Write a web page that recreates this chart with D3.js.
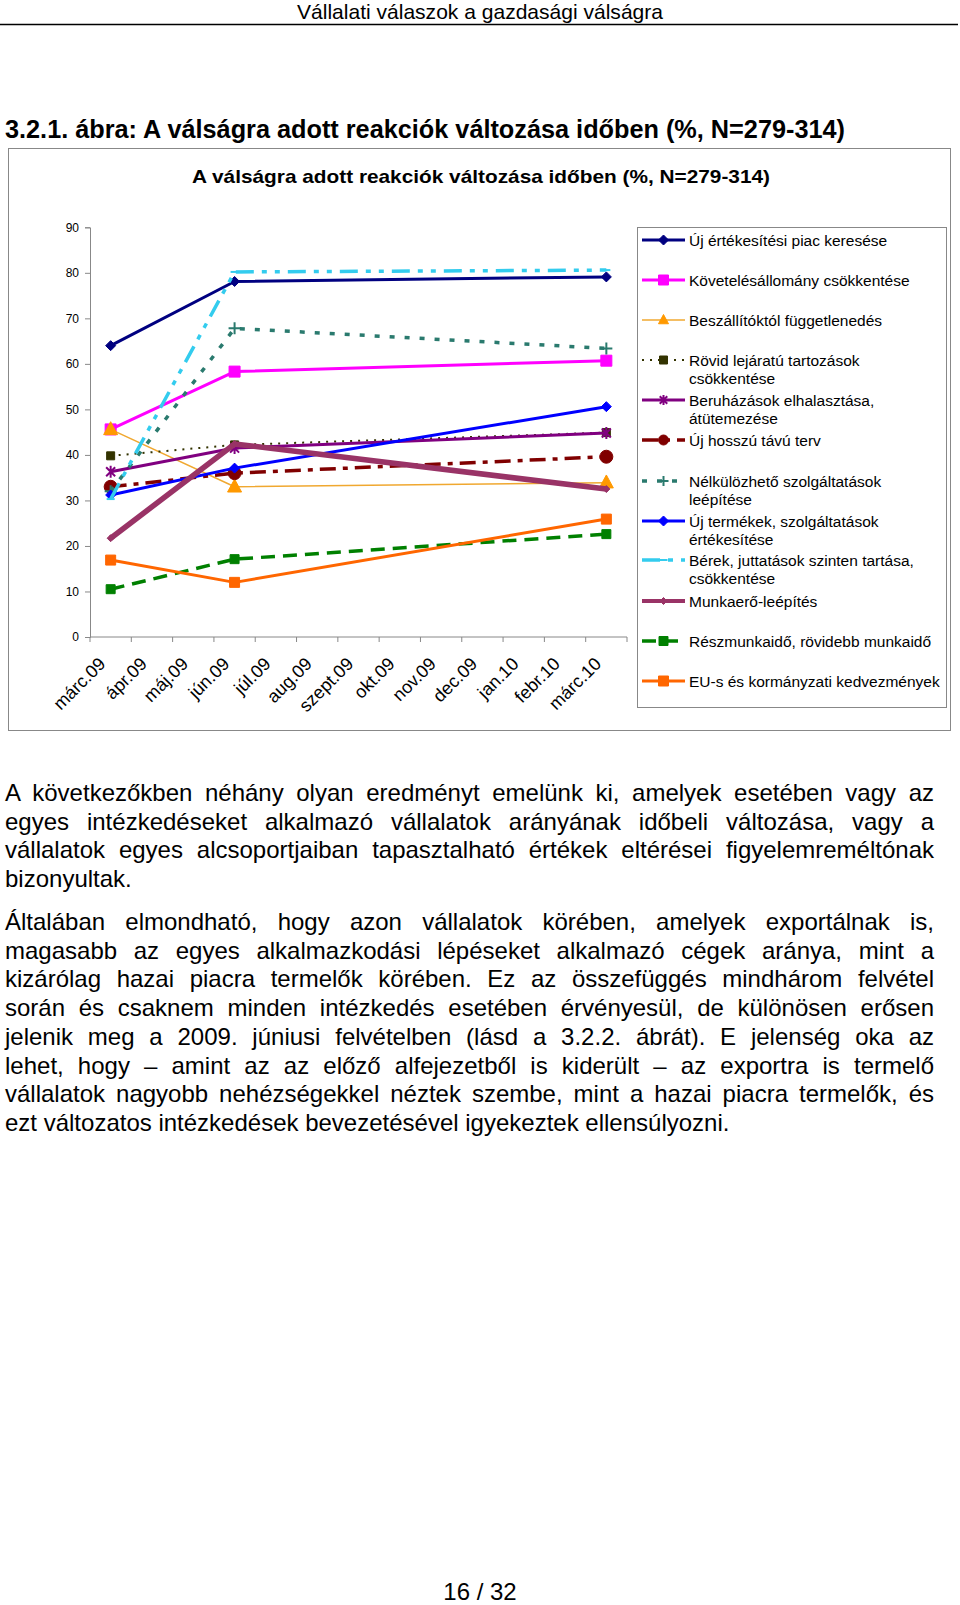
<!DOCTYPE html>
<html>
<head>
<meta charset="utf-8">
<script src="https://cdn.jsdelivr.net/npm/d3@7"></script>
<style>
  body { margin: 0; background: #fff; }
  #page { position: relative; width: 960px; height: 1605px; overflow: hidden; }
  svg { position: absolute; left: 0; top: 0; }
  .txt { position: absolute; left: 5px; width: 929px; font-family: "Liberation Sans", Arial, sans-serif;
         font-size: 24px; line-height: 28.7px; color: #000; }
  .ln { text-align: justify; text-align-last: justify; white-space: nowrap; }
  .ln.last { text-align-last: left; }
</style>
</head>
<body>
<div id="page">
  <div class="chart"></div>
</div>
<script>
// months on the x axis
let months = ['márc.09', 'ápr.09', 'máj.09', 'jún.09', 'júl.09', 'aug.09', 'szept.09',
  'okt.09', 'nov.09', 'dec.09', 'jan.10', 'febr.10', 'márc.10'];
// the three survey waves
let surveyMonths = ['márc.09', 'jún.09', 'márc.10'];
let yTicks = [0, 10, 20, 30, 40, 50, 60, 70, 80, 90];

let seriesNames = [
  'Új értékesítési piac keresése',
  'Követelésállomány csökkentése',
  'Beszállítóktól függetlenedés',
  'Rövid lejáratú tartozások csökkentése',
  'Beruházások elhalasztása, átütemezése',
  'Új hosszú távú terv',
  'Nélkülözhető szolgáltatások leépítése',
  'Új termékek, szolgáltatások értékesítése',
  'Bérek, juttatások szinten tartása, csökkentése',
  'Munkaerő-leépítés',
  'Részmunkaidő, rövidebb munkaidő',
  'EU-s és kormányzati kedvezmények'
];

// legend text split into lines as in the picture
let legendLines = [
  ['Új értékesítési piac keresése'],
  ['Követelésállomány csökkentése'],
  ['Beszállítóktól függetlenedés'],
  ['Rövid lejáratú tartozások', 'csökkentése'],
  ['Beruházások elhalasztása,', 'átütemezése'],
  ['Új hosszú távú terv'],
  ['Nélkülözhető szolgáltatások', 'leépítése'],
  ['Új termékek, szolgáltatások', 'értékesítése'],
  ['Bérek, juttatások szinten tartása,', 'csökkentése'],
  ['Munkaerő-leépítés'],
  ['Részmunkaidő, rövidebb munkaidő'],
  ['EU-s és kormányzati kedvezmények']
];

// values per survey wave (márc.09, jún.09, márc.10)
let ujPiac = [64.0, 78.1, 79.1];
let kovetelesek = [45.6, 58.3, 60.7];
let beszallitok = [45.6, 33.0, 33.9];
let rovidTartozas = [39.8, 42.2, 44.9];
let beruhazasok = [36.3, 41.5, 44.8];
let hosszuTerv = [33.0, 36.0, 39.6];
let nelkulozheto = [32.0, 67.8, 63.4];
let ujTermekek = [31.2, 37.1, 50.6];
let berek = [30.3, 80.2, 80.6];
let munkaero = [21.7, 42.4, 32.5];
let reszmunkaido = [10.5, 17.1, 22.6];
let euKedvezmeny = [16.9, 12.0, 25.9];

let allValues = [ujPiac, kovetelesek, beszallitok, rovidTartozas, beruhazasok, hosszuTerv,
  nelkulozheto, ujTermekek, berek, munkaero, reszmunkaido, euKedvezmeny];

let styles = [
  {color: '#000080', width: 3, dash: null, marker: 'diamond', mcolor: '#000080', msize: 10},
  {color: '#ff00ff', width: 3, dash: null, marker: 'square', mcolor: '#ff00ff', msize: 11},
  {color: '#f0a830', width: 1.5, dash: null, marker: 'triangle', mcolor: '#ff9900', msize: 14},
  {color: '#333300', width: 2, dash: '2,6', marker: 'square', mcolor: '#333300', msize: 8},
  {color: '#800080', width: 3, dash: null, marker: 'asterisk', mcolor: '#800080', msize: 12},
  {color: '#800000', width: 3.5, dash: '16,7,5,7', marker: 'circle', mcolor: '#800000', msize: 13},
  {color: '#2a7a6e', width: 3.5, dash: '5,10', marker: 'plus', mcolor: '#2a7a6e', msize: 12},
  {color: '#0000ff', width: 3, dash: null, marker: 'diamond', mcolor: '#0000ff', msize: 10},
  {color: '#33ccee', width: 3.5, dash: '18,8,5,8,5,8', marker: 'dash', mcolor: '#33ccee', msize: 8},
  {color: '#993366', width: 5.5, dash: null, marker: 'diamond', mcolor: '#993366', msize: 7},
  {color: '#008000', width: 3.5, dash: '14,8', marker: 'square', mcolor: '#008000', msize: 9},
  {color: '#ff6600', width: 3, dash: null, marker: 'square', mcolor: '#ff6600', msize: 10}
];

let W = 960, H = 1605;

let svg = d3.select('#page').append('svg')
  .attr('width', W)
  .attr('height', H);

// page header
svg.append('text')
  .attr('x', 297).attr('y', 18.5)
  .attr('textLength', 366).attr('lengthAdjust', 'spacingAndGlyphs')
  .style('font-family', '"Liberation Sans Narrow", "Liberation Sans", sans-serif')
  .style('font-size', '21px')
  .text('Vállalati válaszok a gazdasági válságra');

svg.append('line')
  .attr('x1', 0).attr('x2', 958).attr('y1', 24.5).attr('y2', 24.5)
  .style('stroke', '#000').style('stroke-width', 1.5);

// figure caption
svg.append('text')
  .attr('x', 5).attr('y', 138)
  .attr('textLength', 840).attr('lengthAdjust', 'spacingAndGlyphs')
  .style('font-family', '"Liberation Sans Narrow", "Liberation Sans", sans-serif')
  .style('font-size', '25px').style('font-weight', 'bold')
  .text('3.2.1. ábra: A válságra adott reakciók változása időben (%, N=279-314)');

// chart frame
svg.append('rect')
  .attr('x', 8.5).attr('y', 148.5).attr('width', 942).attr('height', 582)
  .style('fill', 'none').style('stroke', '#888').style('stroke-width', 1);

svg.append('text')
  .attr('x', 192).attr('y', 182.5)
  .attr('textLength', 578).attr('lengthAdjust', 'spacingAndGlyphs')
  .style('font-family', '"Liberation Sans Narrow", "Liberation Sans", sans-serif')
  .style('font-size', '19px').style('font-weight', 'bold')
  .text('A válságra adott reakciók változása időben (%, N=279-314)');

//scales

let x = d3.scaleBand()
  .domain(months)
  .range([90, 627]);

let y = d3.scaleLinear()
  .domain([0, 90])
  .range([637, 227.3]);

let yAxis = d3.axisLeft(y).tickValues(yTicks).tickSize(5).tickPadding(6);
let yG = svg.append('g')
  .attr('transform', 'translate(90, 0)')
  .call(yAxis);
yG.selectAll('path, line').style('stroke', '#888');
yG.selectAll('text')
  .style('font-family', '"Liberation Sans", Arial, sans-serif')
  .style('font-size', '12px')
  .style('fill', '#000');

// x axis line, ticks between months
svg.append('line')
  .attr('x1', 90).attr('x2', x.range()[1])
  .attr('y1', y(0)).attr('y2', y(0))
  .style('stroke', '#888');

svg.selectAll('.xtick')
  .data(d3.range(months.length + 1))
  .enter()
  .append('line')
  .attr('class', 'xtick')
  .attr('x1', i => x.range()[0] + i * x.step())
  .attr('x2', i => x.range()[0] + i * x.step())
  .attr('y1', y(0)).attr('y2', y(0) + 5)
  .style('stroke', '#888');

svg.selectAll('.xlabel')
  .data(months)
  .enter()
  .append('text')
  .attr('class', 'xlabel')
  .attr('text-anchor', 'end')
  .attr('transform', d => `translate(${x(d) + x.bandwidth() / 2 - 4}, ${y(0) + 28}) rotate(-45)`)
  .style('font-family', '"Liberation Sans", Arial, sans-serif')
  .style('font-size', '18px')
  .text(d => d);

//scales END

function markerPath(type, s) {
  let h = s / 2;
  if (type === 'diamond') return `M0,${-h}L${h},0L0,${h}L${-h},0Z`;
  if (type === 'square') return `M${-h},${-h}H${h}V${h}H${-h}Z`;
  if (type === 'triangle') return `M0,${-h * 1.1}L${h},${h * 0.75}L${-h},${h * 0.75}Z`;
  if (type === 'circle') return d3.symbol().type(d3.symbolCircle).size(Math.PI * h * h)();
  if (type === 'plus') return `M${-h},0H${h}M0,${-h}V${h}`;
  if (type === 'asterisk') {
    let k = h * 0.75;
    return `M${-k},${-k}L${k},${k}M${-k},${k}L${k},${-k}M0,${-h}V${h}`;
  }
  if (type === 'dash') return `M${-h},0H${h}`;
  return '';
}

function drawMarker(g, st) {
  let stroked = st.marker === 'plus' || st.marker === 'asterisk' || st.marker === 'dash';
  g.append('path')
    .attr('d', markerPath(st.marker, st.msize))
    .style('fill', stroked ? 'none' : st.mcolor)
    .style('stroke', st.mcolor)
    .style('stroke-width', stroked ? 2 : 1);
}

let series = seriesNames.map((name, i) => ({
  name: name,
  style: styles[i],
  points: surveyMonths.map((m, j) => ({month: m, value: allValues[i][j]}))
}));

let line = d3.line()
  .x(d => x(d.month) + x.bandwidth() / 2)
  .y(d => y(d.value));

let plot = svg.append('g');

series.forEach(s => {
  plot.append('path')
    .datum(s.points)
    .attr('d', line)
    .style('fill', 'none')
    .style('stroke', s.style.color)
    .style('stroke-width', s.style.width)
    .style('stroke-dasharray', s.style.dash)
    .style('stroke-linejoin', 'round');

  plot.selectAll(null)
    .data(s.points)
    .enter()
    .append('g')
    .attr('transform', d => `translate(${x(d.month) + x.bandwidth() / 2}, ${y(d.value)})`)
    .each(function () { drawMarker(d3.select(this), s.style); });
});

// legend
svg.append('rect')
  .attr('x', 637.5).attr('y', 227.5).attr('width', 309).attr('height', 480)
  .style('fill', '#fff').style('stroke', '#888');

let legendY = [240, 280, 320, 360, 400, 440, 481, 521, 560, 601, 641, 681];

let legend = svg.selectAll('.legend')
  .data(series)
  .enter()
  .append('g')
  .attr('class', 'legend')
  .attr('transform', (d, i) => `translate(0, ${legendY[i]})`);

legend.append('line')
  .attr('x1', 642).attr('x2', 685)
  .attr('y1', 0).attr('y2', 0)
  .style('stroke', d => d.style.color)
  .style('stroke-width', d => Math.min(d.style.width, 4))
  .style('stroke-dasharray', d => d.style.dash);

legend.append('g')
  .attr('transform', 'translate(663.5, 0)')
  .each(function (d) {
    drawMarker(d3.select(this), Object.assign({}, d.style, {msize: Math.min(d.style.msize, 10)}));
  });

legend.each(function (d, i) {
  let t = d3.select(this).append('text')
    .attr('x', 689)
    .attr('y', 5.5)
    .style('font-family', '"Liberation Sans", Arial, sans-serif')
    .style('font-size', '15.5px');
  legendLines[i].forEach((l, k) => {
    t.append('tspan').attr('x', 689).attr('dy', k === 0 ? 0 : 18.3).text(l);
  });
});

// footer
svg.append('text')
  .attr('x', 480).attr('y', 1600)
  .attr('text-anchor', 'middle')
  .style('font-family', '"Liberation Sans", Arial, sans-serif')
  .style('font-size', '24px')
  .text('16 / 32');

// body text
let para1 = [
  'A következőkben néhány olyan eredményt emelünk ki, amelyek esetében vagy az',
  'egyes intézkedéseket alkalmazó vállalatok arányának időbeli változása, vagy a',
  'vállalatok egyes alcsoportjaiban tapasztalható értékek eltérései figyelemreméltónak',
  'bizonyultak.'
];
let para2 = [
  'Általában elmondható, hogy azon vállalatok körében, amelyek exportálnak is,',
  'magasabb az egyes alkalmazkodási lépéseket alkalmazó cégek aránya, mint a',
  'kizárólag hazai piacra termelők körében. Ez az összefüggés mindhárom felvétel',
  'során és csaknem minden intézkedés esetében érvényesül, de különösen erősen',
  'jelenik meg a 2009. júniusi felvételben (lásd a 3.2.2. ábrát). E jelenség oka az',
  'lehet, hogy – amint az az előző alfejezetből is kiderült – az exportra is termelő',
  'vállalatok nagyobb nehézségekkel néztek szembe, mint a hazai piacra termelők, és',
  'ezt változatos intézkedések bevezetésével igyekeztek ellensúlyozni.'
];

[[para1, 779], [para2, 908]].forEach(([lines, top]) => {
  let div = d3.select('#page').append('div')
    .attr('class', 'txt')
    .style('top', top + 'px');
  div.selectAll('div')
    .data(lines)
    .enter()
    .append('div')
    .attr('class', (d, i) => i === lines.length - 1 ? 'ln last' : 'ln')
    .text(d => d);
});
</script>
</body>
</html>
